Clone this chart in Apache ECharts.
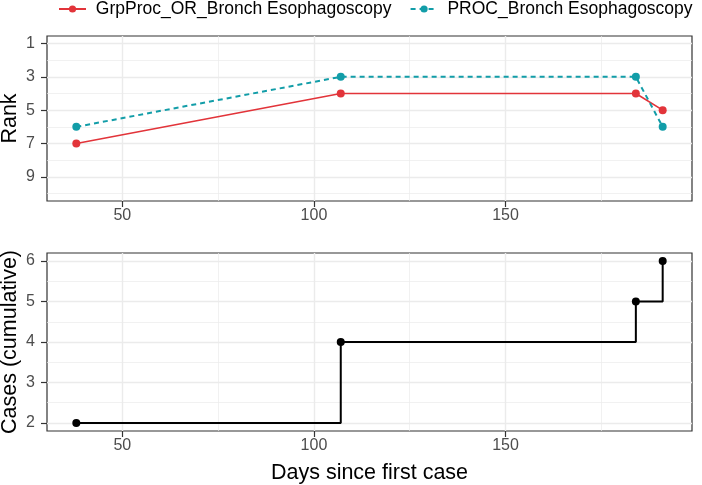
<!DOCTYPE html>
<html><head><meta charset="utf-8">
<script src="https://cdn.jsdelivr.net/npm/echarts@6/dist/echarts.min.js"></script>
<style>html,body{margin:0;padding:0;background:#fff}#c{width:702px;height:485px}</style>
</head><body><div id="c"></div>
<script>
// ---- data ----
const days = [38, 107, 184, 191];
const rankGrp = [7, 4, 4, 5];
const rankProc = [6, 3, 3, 6];
const cumCases = [2, 4, 5, 6];
const seriesNames = ['GrpProc_OR_Bronch Esophagoscopy', 'PROC_Bronch Esophagoscopy'];
const xTicks = [50, 100, 150];
const xMinor = [75, 125, 175];
const rankTicks = [1, 3, 5, 7, 9];
const rankMinor = [2, 4, 6, 8, 10];
const caseTicks = [2, 3, 4, 5, 6];
const caseMinor = [2.5, 3.5, 4.5, 5.5];
const rankLimits = [1, 10];

// ---- scales (ggplot-like 5% expansion) ----
function expand(lo, hi) { const d = (hi - lo) * 0.05; return [lo - d, hi + d]; }
const xr = expand(Math.min(...days), Math.max(...days));
const rr = expand(rankLimits[0], rankLimits[1]);
const cr = expand(Math.min(...cumCases), Math.max(...cumCases));

const FONT = 'Liberation Sans, Arial, sans-serif';
const RED = '#E2343A', TEAL = '#129DA8';
const GRID_COL = '#EBEBEB';

function pairs(xs, ys) { return xs.map((x, i) => [x, ys[i]]); }
function gridLines(xi, yi, xMaj, xMin, yMaj, yMin) {
  const d = [];
  xMin.forEach(v => d.push({xAxis: v, lineStyle: {width: 0.7, color: GRID_COL, type: 'solid'}}));
  yMin.forEach(v => d.push({yAxis: v, lineStyle: {width: 0.7, color: GRID_COL, type: 'solid'}}));
  xMaj.forEach(v => d.push({xAxis: v, lineStyle: {width: 1.4, color: GRID_COL, type: 'solid'}}));
  yMaj.forEach(v => d.push({yAxis: v, lineStyle: {width: 1.4, color: GRID_COL, type: 'solid'}}));
  return {type: 'line', data: [], xAxisIndex: xi, yAxisIndex: yi, silent: true, z: 1,
    markLine: {symbol: 'none', silent: true, z: 1, animation: false, label: {show: false}, data: d}};
}
const tickStyle = {show: true, length: 6, lineStyle: {color: '#333', width: 1.2}};
const labelStyle = {color: '#4D4D4D', fontSize: 16, fontFamily: FONT};
const titleStyle = {fontSize: 21.5, color: '#000', fontFamily: FONT};

const chart = echarts.init(document.getElementById('c'), null, {renderer: 'canvas'});
chart.setOption({
  animation: false,
  backgroundColor: '#fff',
  legend: {
    data: seriesNames, top: 0, left: 58, width: 644, padding: 0, itemWidth: 27, itemHeight: 9, itemGap: 18,
    formatter: n => ' ' + n,
    textStyle: {fontSize: 17.5, color: '#000', fontFamily: FONT}
  },
  grid: [
    {left: 47, right: 10, top: 36, height: 165, outerBoundsMode: 'none', containLabel: false, show: true, borderColor: '#333', borderWidth: 1.2, backgroundColor: '#fff'},
    {left: 47, right: 10, top: 253, height: 178, outerBoundsMode: 'none', containLabel: false, show: true, borderColor: '#333', borderWidth: 1.2, backgroundColor: '#fff'}
  ],
  xAxis: [
    {type: 'value', gridIndex: 0, min: xr[0], max: xr[1], axisLine: {show: false}, splitLine: {show: false},
      axisTick: Object.assign({customValues: xTicks}, tickStyle),
      axisLabel: Object.assign({customValues: xTicks, margin: 7}, labelStyle)},
    {type: 'value', gridIndex: 1, min: xr[0], max: xr[1], axisLine: {show: false}, splitLine: {show: false},
      axisTick: Object.assign({customValues: xTicks}, tickStyle),
      axisLabel: Object.assign({customValues: xTicks, margin: 7}, labelStyle),
      name: 'Days since first case', nameLocation: 'middle', nameGap: 31, nameMoveOverlap: false,
      nameTextStyle: titleStyle}
  ],
  yAxis: [
    {type: 'value', gridIndex: 0, inverse: true, min: rr[0], max: rr[1], axisLine: {show: false}, splitLine: {show: false},
      axisTick: Object.assign({customValues: rankTicks}, tickStyle),
      axisLabel: Object.assign({customValues: rankTicks, margin: 12}, labelStyle),
      name: 'Rank', nameLocation: 'middle', nameGap: 26, nameMoveOverlap: false,
      nameTextStyle: titleStyle},
    {type: 'value', gridIndex: 1, min: cr[0], max: cr[1], axisLine: {show: false}, splitLine: {show: false},
      axisTick: Object.assign({customValues: caseTicks}, tickStyle),
      axisLabel: Object.assign({customValues: caseTicks, margin: 12}, labelStyle),
      name: 'Cases (cumulative)', nameLocation: 'middle', nameGap: 26, nameMoveOverlap: false,
      nameTextStyle: titleStyle}
  ],
  series: [
    gridLines(0, 0, xTicks, xMinor, rankTicks, rankMinor),
    gridLines(1, 1, xTicks, xMinor, caseTicks, caseMinor),
    {name: seriesNames[0], type: 'line', xAxisIndex: 0, yAxisIndex: 0, z: 3,
      data: pairs(days, rankGrp), symbol: 'circle', symbolSize: 8,
      lineStyle: {color: RED, width: 1.6, type: 'solid'}, itemStyle: {color: RED}},
    {name: seriesNames[1], type: 'line', xAxisIndex: 0, yAxisIndex: 0, z: 4,
      data: pairs(days, rankProc), symbol: 'circle', symbolSize: 8,
      lineStyle: {color: TEAL, width: 2, type: [5, 4]}, itemStyle: {color: TEAL}},
    {name: 'cases', type: 'line', xAxisIndex: 1, yAxisIndex: 1, z: 3, step: 'end',
      data: pairs(days, cumCases), symbol: 'circle', symbolSize: 8,
      lineStyle: {color: '#000', width: 2}, itemStyle: {color: '#000'}}
  ]
});
</script></body></html>
